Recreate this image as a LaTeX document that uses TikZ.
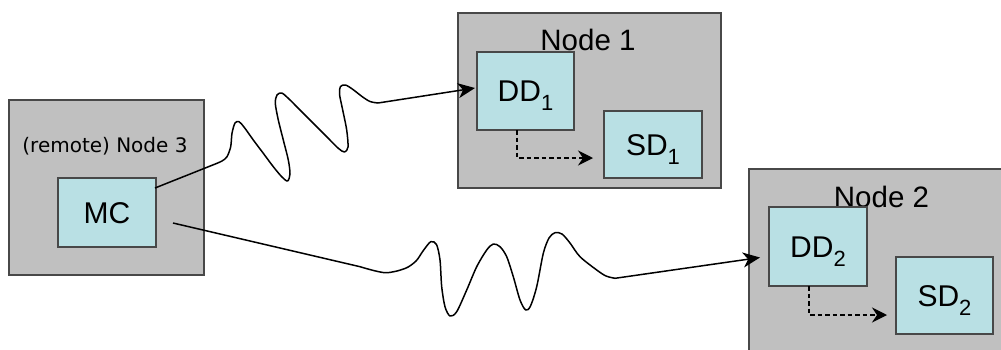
\documentclass[tikz,border=0pt]{standalone}
\usepackage{fontspec}
\setmainfont{Liberation Sans}
\newfontfamily\dejavu{DejaVu Sans}
\usetikzlibrary{arrows.meta,calc}
\definecolor{hostgray}{RGB}{192,192,192}
\definecolor{devcyan}{RGB}{185,224,228}
\definecolor{rim}{RGB}{72,72,72}
% lowered index after a device name
\newcommand{\devsub}[1]{\raisebox{-0.3em}{\fontsize{22}{22}\selectfont #1}}

\begin{document}
\begin{tikzpicture}[x=1pt,y=-1pt,
  host/.style={draw=rim,line width=1.1pt,fill=hostgray,inner sep=0pt,outer sep=0pt},
  devbox/.style={draw=rim,line width=1.1pt,fill=devcyan,inner sep=0pt,outer sep=0pt,
    font=\fontsize{30}{36}\selectfont,text height=21.5pt,text depth=0pt},
  hostlabel/.style={font=\fontsize{29.5}{35}\selectfont,anchor=base,inner sep=0pt},
  wire/.style={line width=1.5pt,line join=round,-{Stealth[length=17pt,width=15pt,inset=5pt]}},
  dasharrow/.style={line width=1.3pt,dash pattern=on 4.5pt off 3pt,
    -{Stealth[length=15pt,width=15pt,inset=5pt]}}]
\clip (0,0) rectangle (1001,349);

% hosts
\node[host,minimum width=195pt,minimum height=175pt] (N3) at (106.5,187.5) {};
\node[host,minimum width=263pt,minimum height=175pt] (N1) at (589.5,100.5) {};
\node[host,minimum width=263pt,minimum height=200pt] (N2) at (880.5,269) {};

\node[hostlabel] (N1lbl) at (588,50) {Node 1};
\node[hostlabel] (N2lbl) at (881.5,207) {Node 2};
\node[hostlabel,font=\dejavu\fontsize{20}{24}\selectfont] (N3lbl) at (105,152) {(remote) Node 3};

% devices
\node[devbox,minimum width=98pt,minimum height=69pt] (MC) at (107,212.5) {MC};
\node[devbox,minimum width=97pt,minimum height=78pt] (DD1) at (525.5,91) {DD\devsub{1}};
\node[devbox,minimum width=98pt,minimum height=67pt] (SD1) at (653,144.5) {SD\devsub{1}};
\node[devbox,minimum width=98pt,minimum height=79pt] (DD2) at (818,246.5) {DD\devsub{2}};
\node[devbox,minimum width=97pt,minimum height=77pt] (SD2) at (944.5,295.5) {SD\devsub{2}};

% local hand-over inside each host
\draw[dasharrow] ($(DD1.south)+(-8.5,0)$) |- ($(SD1.west)+(-11,13.5)$);
\draw[dasharrow] ($(DD2.south)+(-9,0)$) |- ($(SD2.west)+(-9,19.5)$);

% wireless links from the remote controller
\draw[wire] ($(MC.north east)+(-1,10)$) -- (214,164.5)
  -- plot[smooth,tension=0.5] coordinates {
    (214,164.5) (222,161) (227,156.7) (230.7,146.7) (232,133.3) (235,123)
    (239,121.7) (244,127) (253.3,140) (263.3,153.3) (273.3,166.7) (281.7,176.7)
    (287.5,181) (290,174) (288.3,160) (283.3,140) (278.3,120) (275.3,103.3)
    (277,95) (281.7,93) (288.3,98.3) (300,110) (313.3,123.3) (326.7,136.7)
    (338.3,148.3) (344.5,152) (348,147) (346.7,130) (342.7,110) (339.5,94)
    (340.5,86.5) (345.5,85) (353,89.5) (362,96.5) (370,101.5) (378,103)}
  -- ($(DD1.west)+(-2,-3)$);

\draw[wire] ($(MC.east)+(17,10.5)$) -- (360,266.7)
  -- plot[smooth,tension=0.5] coordinates {
    (360,266.7) (385,272.7) (405,268.5) (416,261) (423,251) (430.7,241.7)
    (436.5,244.5) (440,260) (441.7,286.7) (445,306.7) (450,316) (456.7,311.7)
    (466.7,290) (476.7,266.7) (486.7,250) (493.3,244) (500,246.7) (506.7,256.7)
    (513.3,276.7) (520,300) (525.7,310) (530.5,306) (536.7,286.7) (543.3,253.3)
    (549,238) (555,232.7) (562,234) (570,243) (580,256.7) (596.7,270) (606,276)
    (615,278.3)}
  -- ($(DD2.west)+(-9,11)$);
\end{tikzpicture}
\end{document}
